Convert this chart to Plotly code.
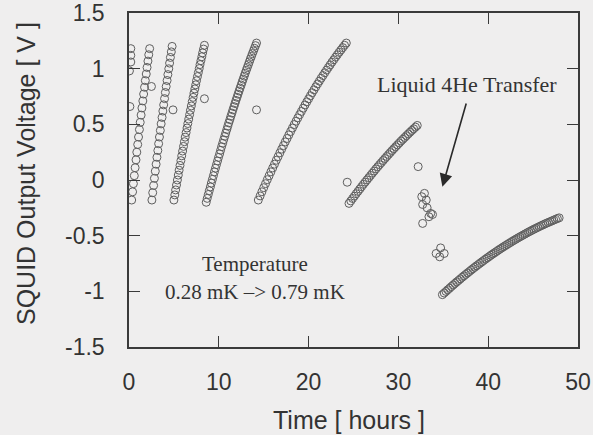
import plotly.graph_objects as go

# SQUID output voltage vs time (hours), one list pair per flux ramp
t_start = [0.20, 0.20, 0.20, 0.05, 0.10]
v_start = [1.18, 1.12, 1.06, 0.98, 0.66]

t_r1 = [0.30, 0.40, 0.49, 0.59, 0.68, 0.78, 0.87, 0.97, 1.06, 1.16, 1.25,
        1.35, 1.44, 1.54, 1.63, 1.73, 1.82, 1.92, 2.01, 2.11, 2.20, 2.30]
v_r1 = [-0.180, -0.106, -0.033, 0.039, 0.110, 0.181, 0.250, 0.319, 0.386, 0.453, 0.518,
        0.583, 0.647, 0.710, 0.772, 0.833, 0.893, 0.952, 1.011, 1.068, 1.125, 1.180]

t_r2 = [2.55, 2.64, 2.74, 2.83, 2.93, 3.02, 3.11, 3.21, 3.30, 3.39, 3.49, 3.58, 3.68,
        3.77, 3.86, 3.96, 4.05, 4.14, 4.24, 4.33, 4.43, 4.52, 4.61, 4.71, 4.80]
v_r2 = [-0.180, -0.114, -0.049, 0.015, 0.079, 0.142, 0.204, 0.265, 0.326, 0.386, 0.445, 0.504, 0.562,
        0.619, 0.675, 0.731, 0.786, 0.840, 0.894, 0.947, 0.999, 1.050, 1.101, 1.151, 1.200]

t_r3 = [5.00, 5.10, 5.19, 5.29, 5.39, 5.49, 5.58, 5.68, 5.78, 5.87, 5.97, 6.07,
        6.17, 6.26, 6.36, 6.46, 6.55, 6.65, 6.75, 6.84, 6.94, 7.04, 7.14, 7.23,
        7.33, 7.43, 7.52, 7.62, 7.72, 7.82, 7.91, 8.01, 8.11, 8.20, 8.30, 8.40]
v_r3 = [-0.180, -0.134, -0.089, -0.045, 0.000, 0.044, 0.088, 0.131, 0.174, 0.217, 0.260, 0.302,
        0.344, 0.385, 0.426, 0.467, 0.507, 0.547, 0.587, 0.626, 0.665, 0.704, 0.742, 0.780,
        0.818, 0.855, 0.892, 0.929, 0.965, 1.001, 1.037, 1.072, 1.107, 1.142, 1.176, 1.210]

t_r4 = [8.60, 8.71, 8.83, 8.94, 9.06, 9.17, 9.29, 9.40, 9.51, 9.63, 9.74, 9.86, 9.97,
        10.09, 10.20, 10.31, 10.43, 10.54, 10.66, 10.77, 10.89, 11.00, 11.11, 11.23, 11.34,
        11.46, 11.57, 11.69, 11.80, 11.91, 12.03, 12.14, 12.26, 12.37, 12.49, 12.60, 12.71,
        12.83, 12.94, 13.06, 13.17, 13.29, 13.40, 13.51, 13.63, 13.74, 13.86, 13.97, 14.09, 14.20]
v_r4 = [-0.200, -0.165, -0.130, -0.096, -0.062, -0.028, 0.006, 0.039, 0.073, 0.106, 0.138, 0.171, 0.203,
        0.235, 0.267, 0.299, 0.330, 0.361, 0.392, 0.422, 0.453, 0.483, 0.513, 0.542, 0.572,
        0.601, 0.630, 0.659, 0.687, 0.715, 0.743, 0.771, 0.799, 0.826, 0.853, 0.880, 0.906,
        0.933, 0.959, 0.985, 1.010, 1.036, 1.061, 1.086, 1.110, 1.135, 1.159, 1.183, 1.207, 1.230]

t_r5 = [14.4, 14.6, 14.8, 15.0, 15.2, 15.4, 15.6, 15.8, 16.0, 16.2, 16.4, 16.6, 16.8,
        17.0, 17.2, 17.4, 17.6, 17.8, 18.0, 18.2, 18.4, 18.6, 18.8, 19.0, 19.2,
        19.4, 19.6, 19.8, 20.0, 20.2, 20.4, 20.6, 20.8, 21.0, 21.2, 21.4, 21.6,
        21.8, 22.0, 22.2, 22.4, 22.6, 22.8, 23.0, 23.2, 23.4, 23.6, 23.8, 24.0, 24.2]
v_r5 = [-0.180, -0.143, -0.106, -0.069, -0.033, 0.003, 0.038, 0.073, 0.108, 0.142, 0.177, 0.210, 0.244,
        0.277, 0.309, 0.342, 0.373, 0.405, 0.436, 0.467, 0.498, 0.528, 0.558, 0.587, 0.616,
        0.645, 0.674, 0.702, 0.729, 0.757, 0.784, 0.810, 0.837, 0.863, 0.888, 0.914, 0.938,
        0.963, 0.987, 1.011, 1.034, 1.058, 1.080, 1.103, 1.125, 1.147, 1.168, 1.189, 1.210, 1.230]

t_r6 = [24.5, 24.7, 24.9, 25.1, 25.3, 25.5, 25.7, 25.9, 26.1, 26.3, 26.5, 26.7, 26.9,
        27.1, 27.3, 27.5, 27.7, 27.9, 28.1, 28.3, 28.5, 28.7, 28.9, 29.1, 29.3, 29.5,
        29.7, 29.9, 30.1, 30.3, 30.5, 30.7, 30.9, 31.1, 31.3, 31.5, 31.7, 31.9, 32.1]
v_r6 = [-0.210, -0.188, -0.166, -0.145, -0.123, -0.102, -0.081, -0.060, -0.039, -0.019, 0.001, 0.021, 0.041,
        0.061, 0.080, 0.100, 0.119, 0.138, 0.156, 0.175, 0.193, 0.211, 0.229, 0.247, 0.265, 0.282,
        0.299, 0.316, 0.333, 0.350, 0.366, 0.382, 0.398, 0.414, 0.430, 0.445, 0.460, 0.475, 0.490]

# readings during the liquid 4He transfer
t_transfer = [32.9, 32.6, 33.1, 32.7, 33.2, 33.6, 32.7, 33.4, 33.8, 34.2, 34.7, 35.1, 34.6]
v_transfer = [-0.12, -0.15, -0.18, -0.22, -0.25, -0.30, -0.39, -0.33, -0.31, -0.66, -0.61, -0.66, -0.69]

t_r7 = [34.9, 35.1, 35.3, 35.5, 35.7, 35.9, 36.1, 36.3, 36.5, 36.7, 36.9, 37.1, 37.3, 37.5,
        37.7, 37.9, 38.1, 38.3, 38.5, 38.7, 38.9, 39.1, 39.3, 39.5, 39.7, 39.9, 40.1, 40.3,
        40.5, 40.7, 40.9, 41.1, 41.3, 41.5, 41.7, 41.9, 42.1, 42.3, 42.5, 42.7, 42.9, 43.1,
        43.3, 43.5, 43.7, 43.9, 44.1, 44.3, 44.5, 44.7, 44.9, 45.1, 45.3, 45.5, 45.7, 45.9,
        46.1, 46.3, 46.5, 46.7, 46.9, 47.1, 47.3, 47.5, 47.7, 47.9]
v_r7 = [-1.030, -1.015, -1.001, -0.986, -0.972, -0.957, -0.943, -0.929, -0.915, -0.902, -0.888, -0.874, -0.861, -0.848,
        -0.835, -0.822, -0.809, -0.796, -0.784, -0.771, -0.759, -0.747, -0.735, -0.723, -0.711, -0.699, -0.688, -0.676,
        -0.665, -0.654, -0.643, -0.632, -0.621, -0.611, -0.600, -0.590, -0.580, -0.570, -0.560, -0.550, -0.540, -0.531,
        -0.521, -0.512, -0.503, -0.494, -0.485, -0.476, -0.467, -0.459, -0.450, -0.442, -0.434, -0.426, -0.418, -0.410,
        -0.403, -0.395, -0.388, -0.381, -0.374, -0.367, -0.360, -0.353, -0.346, -0.340]

# isolated points at the flux jumps
t_jump = [2.50, 4.90, 8.40, 14.20, 24.30, 32.20]
v_jump = [0.84, 0.63, 0.73, 0.63, -0.02, 0.12]

x_ticks = [0, 10, 20, 30, 40, 50]
y_ticks = [-1.5, -1, -0.5, 0, 0.5, 1, 1.5]
y_tick_text = ["-1.5", "-1", "-0.5", "0", "0.5", "1", "1.5"]

BG = "#efeeee"
INK = "#333333"
SANS = "Liberation Sans, Arial, sans-serif"
SERIF = "Liberation Serif, Times New Roman, serif"

segments = [
    (t_start, v_start), (t_r1, v_r1), (t_r2, v_r2), (t_r3, v_r3), (t_r4, v_r4),
    (t_r5, v_r5), (t_r6, v_r6), (t_transfer, v_transfer), (t_r7, v_r7), (t_jump, v_jump),
]

fig = go.Figure()
for ts, vs in segments:
    fig.add_trace(go.Scatter(
        x=ts, y=vs, mode="markers", showlegend=False, hoverinfo="skip",
        marker=dict(symbol="circle-open", size=8, color="#5e5e5e",
                    line=dict(width=1, color="#5e5e5e")),
    ))

axis_common = dict(
    showline=True, linecolor="#3a3a3a", linewidth=1.5, mirror="allticks",
    ticks="inside", ticklen=11, tickwidth=1.3, tickcolor="#3a3a3a",
    showgrid=False, zeroline=False, automargin=False,
    tickfont=dict(family=SANS, size=23, color=INK),
)

fig.update_xaxes(range=[0, 50], tickvals=x_ticks, ticklabelstandoff=14, **axis_common)
fig.update_yaxes(range=[-1.5, 1.5], tickvals=y_ticks, ticktext=y_tick_text,
                 ticklabelstandoff=18, **axis_common)

fig.add_annotation(text="SQUID Output Voltage [ V ]", xref="paper", yref="paper",
                   x=0, y=0.5, xanchor="center", yanchor="middle",
                   xshift=-103, yshift=6, textangle=-90, showarrow=False,
                   font=dict(family=SANS, size=25, color=INK))
fig.add_annotation(text="Time [ hours ]", xref="paper", yref="paper",
                   x=0.5, y=0, xanchor="center", yanchor="middle",
                   xshift=-5, yshift=-73, showarrow=False,
                   font=dict(family=SANS, size=25, color=INK))

fig.add_annotation(text="Liquid 4He Transfer", x=37.6, y=0.86, showarrow=False,
                   font=dict(family=SERIF, size=22, color=INK))
fig.add_annotation(text="", x=34.9, y=-0.06, ax=37.6, ay=0.70, axref="x", ayref="y",
                   showarrow=True, arrowhead=2, arrowsize=1.6, arrowwidth=1.6,
                   arrowcolor="#2a2a2a")
fig.add_annotation(text="Temperature", x=14.0, y=-0.75, showarrow=False,
                   font=dict(family=SERIF, size=21, color=INK))
fig.add_annotation(text="0.28 mK –> 0.79 mK", x=14.0, y=-1.01, showarrow=False,
                   font=dict(family=SERIF, size=21, color=INK))

fig.update_layout(
    width=593, height=435,
    margin=dict(l=129, r=15, t=13, b=88),
    paper_bgcolor=BG, plot_bgcolor=BG,
)

fig.write_html("out.html")
